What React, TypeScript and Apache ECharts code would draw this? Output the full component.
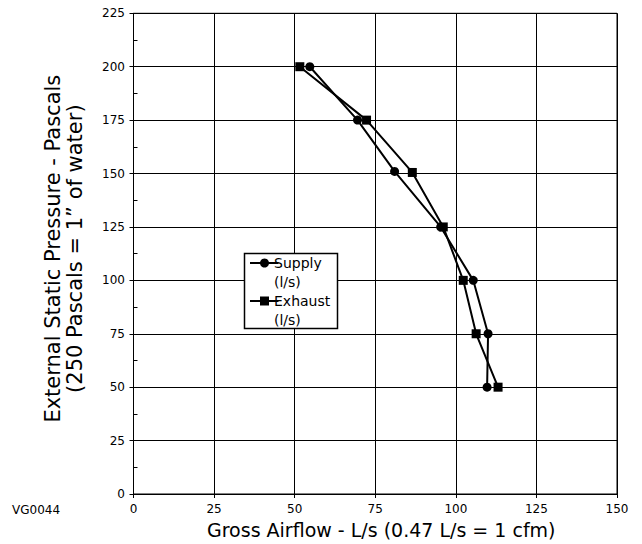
import React, { useEffect, useRef } from "react";
import * as echarts from "echarts";

// ---- data ----
const seriesNames = ["Supply (l/s)", "Exhaust (l/s)"];
const legendLabels = ["Supply\n(l/s)", "Exhaust\n(l/s)"];
const supplyX = [54.7, 69.5, 81.0, 95.3, 105.4, 110.0, 109.7];
const supplyY = [200, 175, 151, 125, 100, 75, 50];
const exhaustX = [51.6, 72.3, 86.5, 96.1, 102.3, 106.3, 113.1];
const exhaustY = [200, 175, 150.5, 125, 100, 75, 50];
const xTickLabels = ["0", "25", "50", "75", "100", "125", "150"];
const yTickLabels = ["0", "25", "50", "75", "100", "125", "150", "175", "200", "225"];
const xTitle = "Gross Airflow - L/s (0.47 L/s = 1 cfm)";
const yTitle = "External Static Pressure - Pascals\n(250 Pascals = 1\u201D of water)";
const codeLabel = "VG0044";

const FONT = "DejaVu Sans";

export default function App() {
  const ref = useRef<HTMLDivElement>(null);
  useEffect(() => {
    if (!ref.current) return;
    const chart = echarts.init(ref.current, undefined, { renderer: "svg" });
    const gLeft = 133.5, gTop = 13.3, gW = 483.5, gH = 481.4;
    const legX = 244.5, legY = 253.5;
    const symbols = ["circle", "rect"];
    const legendEls: any[] = [
      {
        type: "rect",
        shape: { x: legX, y: legY, width: 93, height: 75 },
        style: { fill: "#fff", stroke: "#000", lineWidth: 1.5 },
        z: 10,
      },
    ];
    legendLabels.forEach((lab, i) => {
      const yc = legY + 9.5 + i * 38;
      legendEls.push({
        type: "text",
        x: legX + 29.5,
        y: yc - 9.5,
        style: {
          text: lab,
          font: `14px "${FONT}"`,
          fill: "#000",
          lineHeight: 18.7,
          textVerticalAlign: "top",
        },
        z: 11,
      });
      legendEls.push({
        type: "line",
        shape: { x1: legX + 5.5, y1: yc, x2: legX + 34, y2: yc },
        style: { stroke: "#000", lineWidth: 2 },
        z: 12,
      });
      if (symbols[i] === "circle") {
        legendEls.push({
          type: "circle",
          shape: { cx: legX + 20, cy: yc, r: 4.5 },
          style: { fill: "#000" },
          z: 12,
        });
      } else {
        legendEls.push({
          type: "rect",
          shape: { x: legX + 15.5, y: yc - 4.5, width: 9, height: 9 },
          style: { fill: "#000" },
          z: 12,
        });
      }
    });

    chart.setOption({
      animation: false,
      backgroundColor: "#fff",
      grid: {
        left: gLeft,
        top: gTop,
        width: gW,
        height: gH,
        show: true,
        borderColor: "#000",
        borderWidth: 1,
        backgroundColor: "transparent",
      },
      xAxis: {
        type: "value",
        min: 0,
        max: 150,
        interval: 25,
        name: xTitle,
        nameLocation: "middle",
        nameGap: 26,
        nameTextStyle: {
          fontFamily: FONT,
          fontSize: 19,
          color: "#000",
          padding: [0, 0, 0, 12],
        },
        axisLine: { show: true, lineStyle: { color: "#000", width: 1 } },
        axisTick: { show: true, length: 4, lineStyle: { color: "#000" } },
        axisLabel: {
          margin: 9,
          fontFamily: FONT,
          fontSize: 12,
          color: "#000",
          formatter: (v: number) => xTickLabels[Math.round(v / 25)] ?? "",
        },
        splitLine: { show: true, lineStyle: { color: "#000", width: 1 } },
      },
      yAxis: {
        type: "value",
        min: 0,
        max: 225,
        interval: 25,
        name: yTitle,
        nameLocation: "middle",
        nameGap: 47.5,
        nameTextStyle: {
          fontFamily: FONT,
          fontSize: 21,
          lineHeight: 22,
          color: "#000",
          align: "center",
          padding: [0, 0, 0, 10],
        },
        axisLine: { show: true, lineStyle: { color: "#000", width: 1 } },
        axisTick: { show: true, length: 4, lineStyle: { color: "#000" } },
        minorTick: { show: true, splitNumber: 2, length: -4, lineStyle: { color: "#000", width: 1 } },
        minorSplitLine: { show: false },
        axisLabel: {
          margin: 8.5,
          fontFamily: FONT,
          fontSize: 12,
          color: "#000",
          formatter: (v: number) => yTickLabels[Math.round(v / 25)] ?? "",
        },
        splitLine: { show: true, lineStyle: { color: "#000", width: 1 } },
      },
      series: [
        {
          type: "line",
          name: seriesNames[0],
          data: supplyX.map((x, i) => [x, supplyY[i]]),
          symbol: "circle",
          symbolSize: 9,
          lineStyle: { color: "#000", width: 2 },
          itemStyle: { color: "#000" },
          z: 3,
        },
        {
          type: "line",
          name: seriesNames[1],
          data: exhaustX.map((x, i) => [x, exhaustY[i]]),
          symbol: "rect",
          symbolSize: 9,
          lineStyle: { color: "#000", width: 2 },
          itemStyle: { color: "#000" },
          z: 3,
        },
      ],
      graphic: [
        {
          type: "text",
          left: 12,
          top: 504,
          style: { text: codeLabel, font: `12px "${FONT}"`, fill: "#000" },
        },
        ...legendEls,
      ],
    });
    return () => chart.dispose();
  }, []);
  return (
    <div
      ref={ref}
      style={{ position: "fixed", left: 0, top: 0, width: 642, height: 544, background: "#fff" }}
    />
  );
}
